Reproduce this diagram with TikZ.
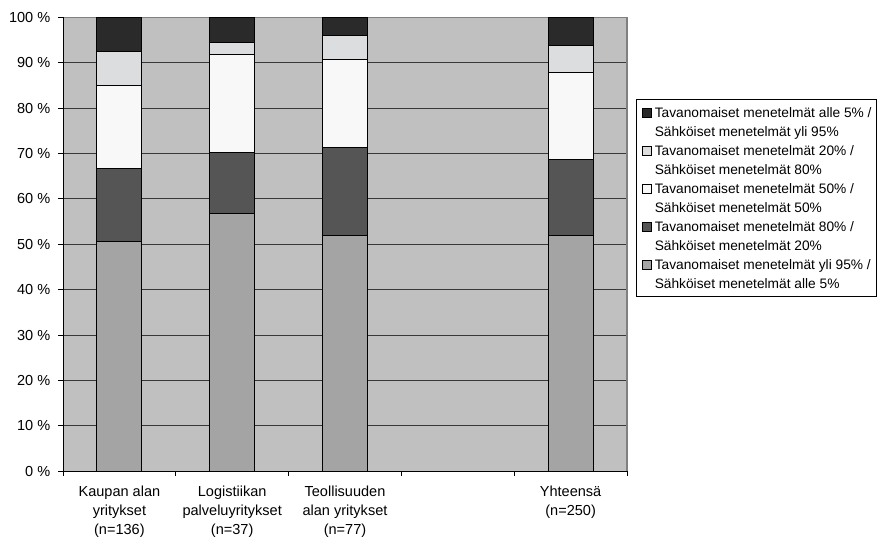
\documentclass[tikz,border=0pt]{standalone}
\usepackage{fontspec}
\setmainfont{Liberation Sans}
\begin{document}
\begin{tikzpicture}[x=0.75pt,y=-0.75pt,
  font=\fontsize{10.9}{14.4}\selectfont,
  gridline/.style={draw=black!78,line width=0.8pt},
  barframe/.style={draw=black,line width=0.75pt},
  axisline/.style={draw=black,line width=0.75pt},
  ticklabel/.style={anchor=east,inner sep=0pt},
  catlabel/.style={anchor=north,align=center,inner sep=0pt},
  legtext/.style={anchor=base west,inner sep=0pt,font=\fontsize{10.3}{14.2}\selectfont},
  legmark/.style={draw=black,line width=0.6pt,minimum size=6.8pt,inner sep=0pt}]
\definecolor{plotbg}{HTML}{C0C0C0}
\definecolor{sA}{HTML}{A4A4A4}
\definecolor{sB}{HTML}{555555}
\definecolor{sC}{HTML}{F8F8F8}
\definecolor{sD}{HTML}{DCDDDF}
\definecolor{sE}{HTML}{2A2A2A}
\definecolor{frame}{HTML}{808080}
\useasboundingbox (0,0) rectangle (877,539);
\fill[white] (0,0) rectangle (877,539);
% plot area in percent units (x in pixels)
\begin{scope}[shift={(0,471.3)},yscale=-4.54]
  \fill[plotbg] (63,0) rectangle (627,100);
  \foreach \v in {10,20,...,90} \draw[gridline] (63,\v) -- (627,\v);
  \draw[frame,line width=0.8pt] (63,100) -- (627,100) -- (627,0);
  % stacked columns: left, right, cumulative limits
  \foreach \l/\r/\a/\b/\c/\d in {
      96.8/141.9/50.6/66.8/85.0/92.4,
      209.6/254.8/56.7/70.2/91.8/94.4,
      322.4/367.6/51.9/71.4/90.8/95.9,
      548.0/593.2/51.9/68.7/87.9/93.8}{
    \fill[sA] (\l,0) rectangle (\r,\a);
    \fill[sB] (\l,\a) rectangle (\r,\b);
    \fill[sC] (\l,\b) rectangle (\r,\c);
    \fill[sD] (\l,\c) rectangle (\r,\d);
    \fill[sE] (\l,\d) rectangle (\r,100);
    \foreach \y in {\a,\b,\c,\d} \draw[barframe] (\l,\y) -- (\r,\y);
    \draw[barframe] (\l,0) rectangle (\r,100);
  }
  \draw[axisline] (63,100) -- (63,0) -- (627,0);
  \foreach \v in {0,10,...,100} \draw[axisline] (58,\v) -- (63,\v);
  \foreach \x in {63,175.8,288.6,401.4,514.2,627} \draw[axisline] (\x,0) -- (\x,-1.1);
  \foreach \v in {0,10,...,100}
    \node[ticklabel] (t\v) at (50.5,\v) {\v\ \%};
\end{scope}
% category labels
\node[catlabel] (c1) at (119.4,485.5) {Kaupan alan\\yritykset\\(n=136)};
\node[catlabel] (c2) at (232.2,485.5) {Logistiikan\\palveluyritykset\\(n=37)};
\node[catlabel] (c3) at (345.0,485.5) {Teollisuuden\\alan yritykset\\(n=77)};
\node[catlabel] (c5) at (570.6,485.5) {Yhteensä\\(n=250)};
% legend
\draw[black,line width=0.75pt,fill=white] (636.7,99.3) rectangle (876,296.7);
\foreach \i/\col/\ta/\tb in {
    0/sE/alle 5\%/yli 95\%,
    1/sD/20\%/80\%,
    2/sC/50\%/50\%,
    3/sB/80\%/20\%,
    4/sA/yli 95\%/alle 5\%}{
  \node[legmark,fill=\col] (m\i) at (646.5,113+38*\i) {};
  \node[legtext] (la\i) at (654.5,117.6+38*\i) {Tavanomaiset menetelmät \ta\ /};
  \node[legtext] (lb\i) at (654.5,136.6+38*\i) {Sähköiset menetelmät \tb};
}
\end{tikzpicture}
\end{document}
